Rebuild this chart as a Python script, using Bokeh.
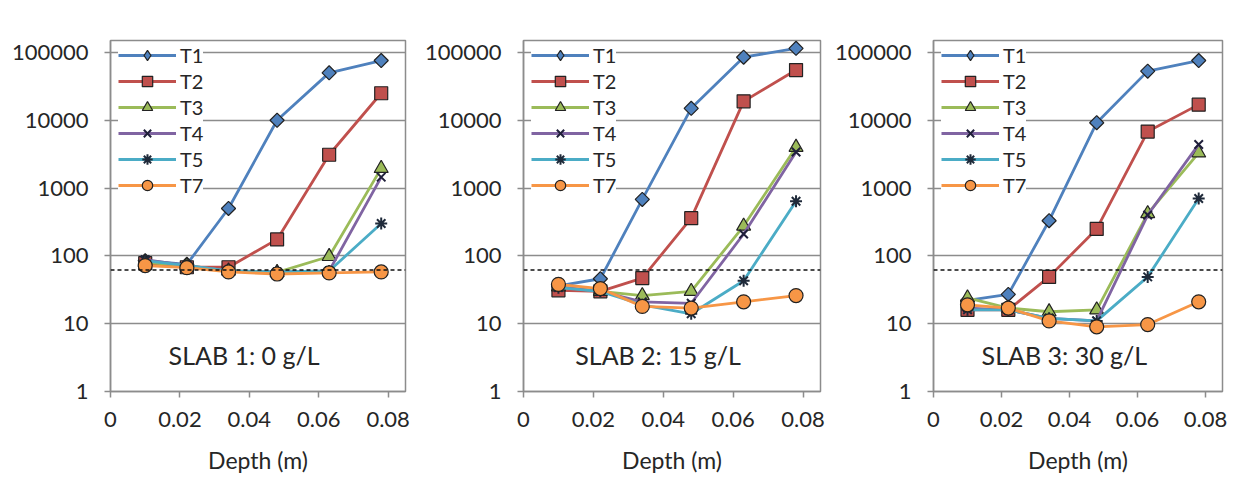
import numpy as np
from bokeh.plotting import figure
from bokeh.layouts import row
from bokeh.models import Range1d, FixedTicker, NumeralTickFormatter, Span, Label, Legend, LegendItem
from bokeh.embed import file_html
from bokeh.resources import INLINE

# ---------------- data ----------------
depth = [0.010, 0.022, 0.034, 0.048, 0.063, 0.078]
series = ["T1", "T2", "T3", "T4", "T5", "T7"]
y_ticks = [1, 10, 100, 1000, 10000, 100000]
x_ticks = [0, 0.02, 0.04, 0.06, 0.08]
threshold = 62
slab_titles = ["SLAB 1: 0 g/L", "SLAB 2: 15 g/L", "SLAB 3: 30 g/L"]
y_title = "Resistivity (Ω.m)"
x_title = "Depth (m)"

s1_T1 = [85, 75, 500, 10000, 50000, 76000]
s1_T2 = [78, 68, 68, 175, 3100, 25000]
s1_T3 = [80, 72, 60, 57, 98, 1950]
s1_T4 = [88, 72, 60, 58, 60, 1450]
s1_T5 = [85, 72, 60, 58, 60, 300]
s1_T7 = [72, 67, 58, 54, 56, 58]

s2_T1 = [36, 46, 680, 15000, 85000, 115000]
s2_T2 = [31, 30, 47, 360, 19000, 55000]
s2_T3 = [35, 30, 26, 30, 275, 4000]
s2_T4 = [35, 30, 21, 20, 210, 3400]
s2_T5 = [34, 30, 19, 14, 43, 640]
s2_T7 = [38, 33, 18, 17, 21, 26]

s3_T1 = [22, 27, 330, 9200, 53000, 76000]
s3_T2 = [16, 16, 49, 250, 6800, 17000]
s3_T3 = [24, 17, 15, 16, 420, 3300]
s3_T4 = [17, 16, 12, 11, 400, 4400]
s3_T5 = [16, 16, 12, 11, 49, 700]
s3_T7 = [19, 17, 11, 9, 9.7, 21]

slabs = [
    [s1_T1, s1_T2, s1_T3, s1_T4, s1_T5, s1_T7],
    [s2_T1, s2_T2, s2_T3, s2_T4, s2_T5, s2_T7],
    [s3_T1, s3_T2, s3_T3, s3_T4, s3_T5, s3_T7],
]

# ---------------- styles ----------------
FONT = "Lato"
TXT = "#262626"
GRID = "#8c8c8c"
OUTL = "#222222"
styles = {
    "T1": dict(color="#4F81BD", marker="square", size=10, angle=np.pi / 4, fill="#4F81BD", mline=OUTL, mw=1.2, leg_marker="diamond"),
    "T2": dict(color="#C0504D", marker="square", size=13, angle=0, fill="#C0504D", mline=OUTL, mw=1.2, leg_marker=None),
    "T3": dict(color="#9BBB59", marker="triangle", size=14, angle=0, fill="#9BBB59", mline=OUTL, mw=1.2, leg_marker=None),
    "T4": dict(color="#8064A2", marker="x", size=12, angle=0, fill=None, mline="#1f1f3a", mw=2, leg_marker=None),
    "T5": dict(color="#4BACC6", marker="asterisk", size=12, angle=0, fill=None, mline="#1f2a3a", mw=2, leg_marker=None),
    "T7": dict(color="#F79646", marker="circle", size=14, angle=0, fill="#F79646", mline=OUTL, mw=1.2, leg_marker=None),
}

FRAME_H = 351
FIG_H = 480
TOP = 40
RIGHT = 5
layout_cfg = [
    dict(width=410, left=110),
    dict(width=415, left=113),
    dict(width=402, left=108),
]

figs = []
for k, (vals, cfg) in enumerate(zip(slabs, layout_cfg)):
    p = figure(width=cfg["width"], height=FIG_H, y_axis_type="log",
               x_range=Range1d(0, 0.085), y_range=Range1d(1, 150000),
               output_backend="svg", toolbar_location=None,
               min_border_left=cfg["left"], min_border_right=RIGHT,
               min_border_top=TOP,
               min_border_bottom=FIG_H - TOP - FRAME_H)
    p.background_fill_color = "white"
    p.border_fill_color = "white"
    p.outline_line_color = GRID
    p.outline_line_width = 1.5

    p.xgrid.visible = False
    p.ygrid.ticker = FixedTicker(ticks=y_ticks)
    p.ygrid.grid_line_color = GRID
    p.ygrid.grid_line_width = 1.5

    p.yaxis.ticker = FixedTicker(ticks=y_ticks, minor_ticks=[])
    p.yaxis.formatter = NumeralTickFormatter(format="0")
    p.xaxis.ticker = FixedTicker(ticks=x_ticks, minor_ticks=[])
    p.xaxis.formatter = NumeralTickFormatter(format="0.[00]")
    for ax in (p.xaxis[0], p.yaxis[0]):
        ax.axis_line_color = GRID
        ax.axis_line_width = 1.5
        ax.major_tick_line_color = GRID
        ax.major_tick_line_width = 1.5
        ax.major_tick_in = 0
        ax.major_tick_out = 6
        ax.minor_tick_line_color = None
        ax.major_label_text_font = FONT
        ax.major_label_text_font_size = "22px"
        ax.major_label_text_color = TXT
        ax.axis_label_text_font = FONT
        ax.axis_label_text_font_size = "23px"
        ax.axis_label_text_font_style = "normal"
        ax.axis_label_text_color = TXT
    p.yaxis.major_label_standoff = 16
    p.xaxis.major_label_standoff = 14
    p.xaxis.axis_label_standoff = 16
    p.xaxis.axis_label = x_title

    # y-axis title: Excel places it low, overlapping the long tick labels' column
    frame_w = cfg["width"] - cfg["left"] - RIGHT
    p.add_layout(Label(x=-87 * 0.085 / frame_w, y=0.9, text=y_title, angle=np.pi / 2,
                       text_align="left", text_baseline="middle", text_font=FONT,
                       text_font_size="24px", text_color=TXT))

    p.add_layout(Span(location=threshold, dimension="width", line_color="#111111",
                      line_width=1.5, line_dash="4 3"))

    items = []
    for name, v in zip(series, vals):
        st = styles[name]
        lr = p.line(depth, v, line_color=st["color"], line_width=2.8)
        sr = p.scatter(depth, v, marker=st["marker"], size=st["size"], angle=st["angle"],
                       fill_color=st["fill"], line_color=st["mline"], line_width=st["mw"])
        if st["leg_marker"] is not None:
            proxy = p.scatter([np.nan], [np.nan], marker=st["leg_marker"], size=st["size"],
                              fill_color=st["fill"], line_color=st["mline"], line_width=st["mw"])
            items.append(LegendItem(label=name, renderers=[lr, proxy]))
        else:
            items.append(LegendItem(label=name, renderers=[lr, sr]))

    p.add_layout(Label(x=0.0385, y=3.4, text=slab_titles[k], text_align="center",
                       text_baseline="middle", text_font=FONT,
                       text_font_size="25px", text_color=TXT))

    leg = Legend(items=items)
    leg.location = (8, FRAME_H - 164 + 6)
    leg.background_fill_color = "white"
    leg.background_fill_alpha = 1.0
    leg.border_line_color = None
    leg.padding = 4
    leg.margin = 0
    leg.spacing = 0
    leg.glyph_width = 58
    leg.glyph_height = 26
    leg.label_height = 26
    leg.label_standoff = 4
    leg.label_text_font = FONT
    leg.label_text_font_size = "20px"
    leg.label_text_color = TXT
    p.add_layout(leg)
    figs.append(p)

layout = row(*figs, spacing=0)
open("out.html", "w").write(file_html(layout, INLINE))
